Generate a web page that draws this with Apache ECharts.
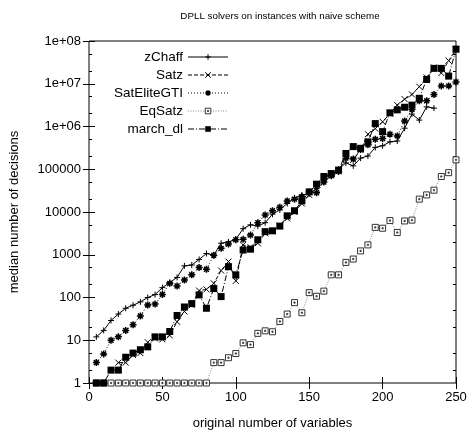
<!DOCTYPE html>
<html><head><meta charset="utf-8">
<script src="https://cdn.jsdelivr.net/npm/echarts@6/dist/echarts.min.js"></script>
<style>html,body{margin:0;padding:0;background:#fff}#c{width:472px;height:438px}</style>
</head><body><div id="c"></div>
<script>
const chartTitle = 'DPLL solvers on instances with naive scheme';
const xAxisName = 'original number of variables';
const yAxisName = 'median number of decisions';
const seriesNames = ['zChaff', 'Satz', 'SatEliteGTI', 'EqSatz', 'march_dl'];
const xTicks = [0, 50, 100, 150, 200, 250];
const yTickLabels = ['1', '10', '100', '1000', '10000', '100000', '1e+06', '1e+07', '1e+08'];
const yMinorMultipliers = [2, 5];

const xValues = [5,10,15,20,25,30,35,40,45,50,55,60,65,70,75,80,85,90,95,100,105,110,115,120,125,130,135,140,145,150,155,160,165,170,175,180,185,190,195,200,205,210,215,220,225,230,235,240,245,250];

const zChaff = [12,17,29,41,56,66,79,100,117,170,224,295,550,575,776,1070,977,1860,2000,2290,4070,5010,4680,5620,8900,11200,15800,21400,25100,26300,35500,50100,70800,100000,141000,120000,182000,204000,324000,355000,437000,457000,912000,1950000,1410000,2880000,2690000,null,null,null];
const satz = [null,null,null,3,3,4.5,5,9,11,10.5,13,27,47,66,145,155,214,427,692,245,1700,1500,1860,3160,3550,4790,7080,10000,15800,25100,35500,63100,75900,89100,200000,166000,282000,661000,891000,1290000,2000000,3160000,4370000,5620000,8510000,14100000,24000000,17800000,34700000,63100000];
const satElite = [3,4.8,10,12,17,23,37,67,70,118,214,186,257,339,501,457,977,1410,1780,2240,2290,2880,5620,8510,10700,12900,18200,20000,22900,29500,28200,50100,70800,89100,182000,174000,288000,372000,501000,525000,661000,603000,1350000,2510000,3980000,3980000,5620000,8910000,8910000,11000000];
const eqSatz = [1,1,1,1,1,1,1,1,1,1,1,1,1,1,1,1,3,3,3.9,4.9,8.7,7.9,14.5,16.6,15.8,27.5,41,76,44,130,107,141,339,339,661,794,1230,1700,4370,4170,6310,3310,6170,6460,20000,25100,32400,67600,83200,166000];
const marchDl = [1,1,2,2,4,5,6,7,12,12,16,38,60,72,115,56,162,105,525,339,1290,1350,2240,3470,3630,4680,8130,10700,18200,29500,44700,67600,79400,95500,234000,339000,309000,437000,1170000,759000,2090000,2450000,2820000,3160000,4570000,12600000,22900000,22900000,15100000,64600000];

const FONT = "'Liberation Sans', Arial, sans-serif";
const pairs = arr => xValues.map((x, i) => [x, arr[i]]);

const minorLogs = [];
for (let d = 0; d < 8; d++) yMinorMultipliers.forEach(m => minorLogs.push(d + Math.log10(m)));

const plus = 'path://M0,5H10M5,0V10';
const cross = 'path://M1,1L9,9M1,9L9,1';
const star = 'path://M0,5H10M5,0V10M1.5,1.5L8.5,8.5M1.5,8.5L8.5,1.5';
const dotSquare = 'path://M0,0H10V10H0ZM4,4H6V6H4Z';

const styles = [
  { dash: 'solid', symbol: plus, size: 6, item: { color: '#000', borderColor: '#000', borderWidth: 1 } },
  { dash: [4, 2], symbol: cross, size: 6, item: { color: '#000', borderColor: '#000', borderWidth: 1 } },
  { dash: [1, 2], symbol: star, size: 7, item: { color: '#000', borderColor: '#000', borderWidth: 1.5 } },
  { dash: [1, 1.5], symbol: dotSquare, size: 6, item: { color: '#fff', borderColor: '#333', borderWidth: 1 }, line: '#888' },
  { dash: [6, 2, 1, 2], symbol: 'rect', size: 7, item: { color: '#000', borderColor: '#000', borderWidth: 0 } }
];
const dataSets = [zChaff, satz, satElite, eqSatz, marchDl];

const series = seriesNames.map((name, i) => ({
  name, type: 'line', data: pairs(dataSets[i]), xAxisIndex: 0, yAxisIndex: 0,
  symbol: styles[i].symbol, symbolSize: styles[i].size, showAllSymbol: true, connectNulls: false, animation: false,
  lineStyle: { color: styles[i].line || '#000', width: 1, type: styles[i].dash },
  itemStyle: styles[i].item,
  emphasis: { disabled: true }
}));

const legendData = seriesNames.map((name, i) => ({
  name,
  itemStyle: Object.assign({}, styles[i].item),
  lineStyle: { color: styles[i].line || '#000', width: 1, type: styles[i].dash }
}));

const majorTick = { show: true, inside: true, length: 6, lineStyle: { color: '#000', width: 1 } };
const minorTickCfg = { show: true, inside: true, length: 3, customValues: minorLogs, lineStyle: { color: '#000', width: 1 } };

const chart = echarts.init(document.getElementById('c'), null, { renderer: 'canvas' });
chart.setOption({
  animation: false,
  backgroundColor: '#fff',
  textStyle: { fontFamily: FONT },
  title: {
    text: chartTitle, left: 275, top: 6, textAlign: 'center',
    textStyle: { fontFamily: FONT, fontSize: 9.8, fontWeight: 'normal', color: '#000' }
  },
  grid: { left: 88, right: 16, top: 41, bottom: 55, show: true, borderColor: '#000', borderWidth: 1, backgroundColor: 'transparent' },
  legend: {
    data: legendData, orient: 'vertical', align: 'right', left: 114, top: 50, padding: 0,
    itemWidth: 40, itemHeight: 7, itemGap: 4,
    lineStyle: { width: 1 },
    textStyle: { fontFamily: FONT, fontSize: 13.5, color: '#000' },
    selectedMode: false
  },
  xAxis: [
    { type: 'value', min: xTicks[0], max: xTicks[xTicks.length - 1], interval: 50, position: 'bottom',
      name: xAxisName, nameLocation: 'middle', nameGap: 34,
      nameTextStyle: { fontFamily: FONT, fontSize: 13, color: '#000' },
      axisLine: { show: false }, splitLine: { show: false }, axisTick: majorTick,
      axisLabel: { fontFamily: FONT, fontSize: 13, color: '#000', margin: 8 } },
    { type: 'value', min: xTicks[0], max: xTicks[xTicks.length - 1], interval: 50, position: 'top',
      axisLine: { show: false }, splitLine: { show: false }, axisTick: majorTick, axisLabel: { show: false } }
  ],
  yAxis: [
    { type: 'log', logBase: 10, min: 1, max: 1e8, splitNumber: 8, position: 'left',
      name: yAxisName, nameLocation: 'middle', nameGap: 68,
      nameTextStyle: { fontFamily: FONT, fontSize: 13, color: '#000' },
      axisLine: { show: false }, splitLine: { show: false }, axisTick: majorTick,
      axisLabel: { fontFamily: FONT, fontSize: 13, color: '#000', margin: 8,
        formatter: v => yTickLabels[Math.round(Math.log10(v))] } },
    { type: 'log', logBase: 10, min: 1, max: 1e8, splitNumber: 8, position: 'right',
      axisLine: { show: false }, splitLine: { show: false }, axisTick: majorTick, axisLabel: { show: false } },
    { type: 'value', min: 0, max: 8, position: 'left',
      axisLine: { show: false }, splitLine: { show: false }, axisTick: minorTickCfg, axisLabel: { show: false } },
    { type: 'value', min: 0, max: 8, position: 'right',
      axisLine: { show: false }, splitLine: { show: false }, axisTick: minorTickCfg, axisLabel: { show: false } }
  ],
  series: series
});
</script>
</body></html>
